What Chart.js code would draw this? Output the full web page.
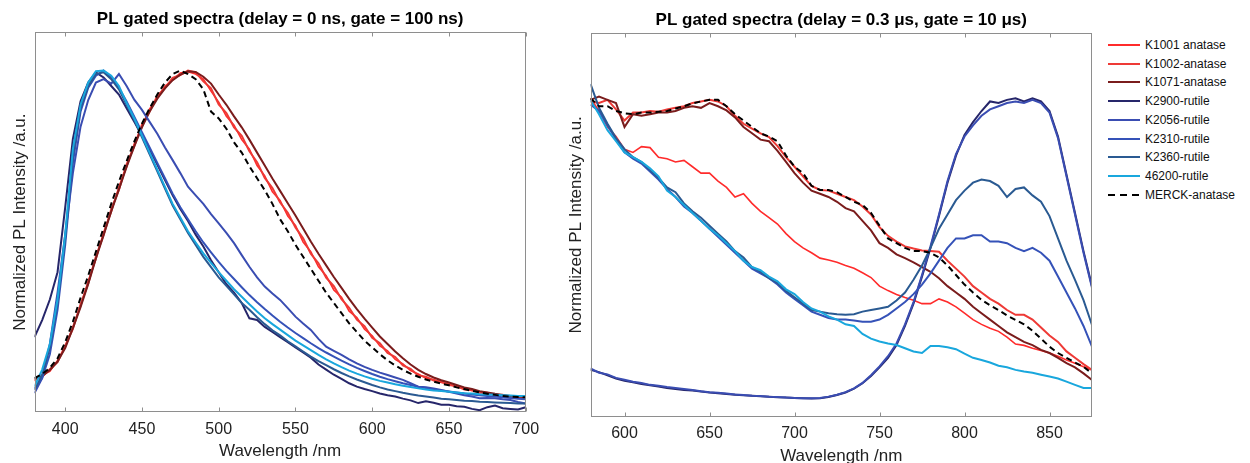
<!DOCTYPE html>
<html>
<head>
<meta charset="utf-8">
<title>PL gated spectra</title>
<script src="https://cdn.jsdelivr.net/npm/chart.js@4.4.1/dist/chart.umd.min.js"></script>
<style>
  html, body { margin: 0; padding: 0; background: #fff; overflow: hidden; }
  body { width: 1250px; height: 463px; position: relative; font-family: "Liberation Sans", Arial, sans-serif; }
  #wrap-left { position: absolute; left: 0; top: 0; width: 540px; height: 463px; }
  #wrap-right { position: absolute; left: 560px; top: 0; width: 540px; height: 467px; }
  #legend { position: absolute; left: 1108px; top: 0; width: 142px; height: 220px; }
  .lg-row { position: absolute; left: 0; width: 142px; height: 18px; font-size: 12px; line-height: 18px; color: #111; white-space: nowrap; }
  .lg-line { position: absolute; left: 0; top: 8px; width: 32px; height: 2px; }
  .lg-text { position: absolute; left: 37px; top: 0; }
</style>
</head>
<body>
<div id="wrap-left"><canvas id="chart-left" width="540" height="463"></canvas></div>
<div id="wrap-right"><canvas id="chart-right" width="540" height="467"></canvas></div>
<div id="legend"></div>

<script>
// ---- series info (legend order = plot order) ----
const seriesNames = ["K1001 anatase", "K1002-anatase", "K1071-anatase", "K2900-rutile",
  "K2056-rutile", "K2310-rutile", "K2360-rutile", "46200-rutile", "MERCK-anatase"];
const seriesColors = ["#ff2b2b", "#ee3a36", "#7a1c1c", "#26266a",
  "#3a4db2", "#3552b8", "#2a5a92", "#19a7dd", "#000000"];
const seriesWidths = [1.6, 2, 2, 2, 2, 2, 2, 2, 2];

const ticksLeft = [400, 450, 500, 550, 600, 650, 700];
const ticksRight = [600, 650, 700, 750, 800, 850];

// ---- left panel: delay 0 ns, gate 100 ns ----
const wlLeft = [380, 385, 390, 395, 400, 405, 410, 415, 420, 425,
  430, 435, 440, 445, 450, 455, 460, 465, 470, 475,
  480, 485, 490, 495, 500, 505, 510, 515, 520, 525,
  530, 535, 540, 545, 550, 555, 560, 565, 570, 575,
  580, 585, 590, 595, 600, 605, 610, 615, 620, 625,
  630, 635, 640, 645, 650, 655, 660, 665, 670, 675,
  680, 685, 690, 695, 700];

const left_K1001 = [0.092, 0.11, 0.12, 0.152, 0.19, 0.25, 0.31, 0.384, 0.448, 0.526,
  0.586, 0.66, 0.718, 0.786, 0.835, 0.888, 0.919, 0.955, 0.972, 0.993,
  0.997, 0.99, 0.975, 0.94, 0.908, 0.866, 0.84, 0.798, 0.77, 0.722,
  0.692, 0.645, 0.62, 0.574, 0.547, 0.498, 0.47, 0.426, 0.4, 0.358,
  0.337, 0.296, 0.277, 0.243, 0.224, 0.194, 0.18, 0.155, 0.142, 0.122,
  0.112, 0.1, 0.096, 0.087, 0.083, 0.074, 0.07, 0.063, 0.06, 0.054,
  0.053, 0.048, 0.048, 0.044, 0.045];
const left_K1002 = [0.095, 0.104, 0.126, 0.147, 0.195, 0.244, 0.316, 0.377, 0.456, 0.518,
  0.594, 0.651, 0.726, 0.779, 0.842, 0.88, 0.926, 0.949, 0.979, 0.987,
  1.0, 0.995, 0.969, 0.948, 0.901, 0.876, 0.834, 0.809, 0.764, 0.732,
  0.686, 0.656, 0.614, 0.584, 0.541, 0.509, 0.464, 0.436, 0.394, 0.369,
  0.331, 0.306, 0.271, 0.252, 0.218, 0.202, 0.174, 0.162, 0.137, 0.127,
  0.108, 0.104, 0.093, 0.09, 0.08, 0.077, 0.067, 0.066, 0.057, 0.057,
  0.05, 0.051, 0.045, 0.047, 0.043];
const left_K1071 = [0.098, 0.106, 0.124, 0.148, 0.188, 0.246, 0.308, 0.376, 0.45, 0.518,
  0.588, 0.652, 0.718, 0.778, 0.834, 0.88, 0.918, 0.948, 0.972, 0.988,
  0.998, 0.996, 0.982, 0.962, 0.93, 0.9, 0.866, 0.834, 0.798, 0.76,
  0.722, 0.684, 0.648, 0.612, 0.576, 0.538, 0.5, 0.464, 0.43, 0.396,
  0.364, 0.332, 0.302, 0.274, 0.248, 0.222, 0.2, 0.178, 0.158, 0.14,
  0.124, 0.112, 0.102, 0.094, 0.087, 0.08, 0.073, 0.068, 0.062, 0.058,
  0.054, 0.051, 0.048, 0.046, 0.045];
const left_K2900 = [0.22, 0.27, 0.33, 0.41, 0.6, 0.8, 0.91, 0.965, 0.995, 0.98,
  0.955, 0.93, 0.89, 0.85, 0.81, 0.77, 0.725, 0.68, 0.635, 0.595,
  0.56, 0.52, 0.485, 0.445, 0.41, 0.375, 0.35, 0.32, 0.275, 0.27,
  0.25, 0.235, 0.22, 0.205, 0.19, 0.175, 0.16, 0.14, 0.125, 0.11,
  0.098, 0.085, 0.075, 0.068, 0.062, 0.055, 0.05, 0.046, 0.04, 0.035,
  0.027, 0.032, 0.028, 0.022, 0.022, 0.018, 0.016, 0.01, 0.006, 0.015,
  0.02, 0.012, 0.01, 0.008, 0.015];
const left_K2056 = [0.056, 0.1, 0.2, 0.35, 0.52, 0.7, 0.836, 0.914, 0.965, 0.975,
  0.962, 0.99, 0.955, 0.915, 0.885, 0.85, 0.815, 0.775, 0.738, 0.7,
  0.66, 0.635, 0.61, 0.58, 0.553, 0.525, 0.495, 0.46, 0.426, 0.395,
  0.368, 0.348, 0.329, 0.305, 0.28, 0.26, 0.241, 0.215, 0.192, 0.18,
  0.168, 0.155, 0.143, 0.133, 0.124, 0.116, 0.109, 0.102, 0.095, 0.085,
  0.075, 0.073, 0.07, 0.065, 0.06, 0.055, 0.05, 0.046, 0.041, 0.042,
  0.041, 0.038, 0.036, 0.03, 0.026];
const left_K2310 = [0.07, 0.1, 0.17, 0.3, 0.49, 0.73, 0.88, 0.95, 0.985, 1.0,
  0.98, 0.95, 0.91, 0.865, 0.82, 0.775, 0.73, 0.685, 0.64, 0.6,
  0.565, 0.53, 0.497, 0.468, 0.44, 0.414, 0.39, 0.366, 0.343, 0.322,
  0.302, 0.283, 0.265, 0.248, 0.232, 0.217, 0.202, 0.188, 0.175, 0.163,
  0.151, 0.14, 0.13, 0.121, 0.112, 0.104, 0.097, 0.091, 0.085, 0.08,
  0.075, 0.071, 0.067, 0.064, 0.061, 0.058, 0.055, 0.052, 0.05, 0.048,
  0.046, 0.044, 0.042, 0.04, 0.038];
const left_K2360 = [0.065, 0.11, 0.19, 0.32, 0.51, 0.75, 0.89, 0.955, 0.99, 0.995,
  0.975, 0.945, 0.9, 0.855, 0.805, 0.755, 0.705, 0.655, 0.605, 0.565,
  0.525, 0.49, 0.455, 0.425, 0.395, 0.37, 0.345, 0.32, 0.3, 0.278,
  0.258, 0.24, 0.225, 0.208, 0.193, 0.178, 0.163, 0.15, 0.138, 0.126,
  0.115, 0.105, 0.096, 0.088, 0.08, 0.073, 0.067, 0.062, 0.057, 0.053,
  0.049, 0.046, 0.043, 0.04, 0.038, 0.036, 0.034, 0.033, 0.031, 0.03,
  0.029, 0.028, 0.027, 0.026, 0.026];
const left_46200 = [0.075, 0.125, 0.2, 0.33, 0.52, 0.77, 0.9, 0.965, 0.998, 1.0,
  0.985, 0.955, 0.905, 0.86, 0.81, 0.76, 0.71, 0.66, 0.61, 0.57,
  0.53, 0.497, 0.465, 0.437, 0.41, 0.385, 0.36, 0.338, 0.316, 0.295,
  0.275, 0.258, 0.242, 0.226, 0.21, 0.196, 0.182, 0.168, 0.155, 0.143,
  0.132, 0.122, 0.113, 0.105, 0.098, 0.092, 0.087, 0.082, 0.078, 0.074,
  0.07, 0.067, 0.064, 0.062, 0.06, 0.058, 0.056, 0.055, 0.053, 0.052,
  0.051, 0.05, 0.049, 0.048, 0.048];
const left_MERCK = [0.1, 0.112, 0.13, 0.158, 0.205, 0.265, 0.335, 0.4, 0.47, 0.54,
  0.61, 0.675, 0.735, 0.792, 0.845, 0.89, 0.93, 0.965, 0.99, 1.0,
  0.99, 0.975, 0.945, 0.88, 0.86, 0.83, 0.79, 0.76, 0.72, 0.685,
  0.65, 0.61, 0.565, 0.53, 0.49, 0.455, 0.42, 0.385, 0.35, 0.32,
  0.29, 0.26, 0.235, 0.21, 0.19, 0.17, 0.152, 0.137, 0.124, 0.113,
  0.104, 0.096, 0.09, 0.084, 0.079, 0.073, 0.068, 0.063, 0.058, 0.054,
  0.051, 0.048, 0.046, 0.045, 0.044];

// ---- right panel: delay 0.3 us, gate 10 us ----
const wlRight = [580, 585, 590, 595, 600, 605, 610, 615, 620, 625,
  630, 635, 640, 645, 650, 655, 660, 665, 670, 675,
  680, 685, 690, 695, 700, 705, 710, 715, 720, 725,
  730, 735, 740, 745, 750, 755, 760, 765, 770, 775,
  780, 785, 790, 795, 800, 805, 810, 815, 820, 825,
  830, 835, 840, 845, 850, 855, 860, 865, 870, 875];

const right_K1001 = [1.0, 0.96, 0.91, 0.88, 0.84, 0.83, 0.848, 0.845, 0.815, 0.81,
  0.8, 0.805, 0.785, 0.765, 0.765, 0.74, 0.72, 0.69, 0.7, 0.67,
  0.645, 0.625, 0.605, 0.575, 0.55, 0.53, 0.515, 0.498, 0.492, 0.485,
  0.475, 0.466, 0.452, 0.437, 0.41, 0.396, 0.384, 0.374, 0.366, 0.355,
  0.355, 0.37, 0.36, 0.345, 0.325, 0.305, 0.29, 0.278, 0.268, 0.25,
  0.228, 0.224, 0.215, 0.208, 0.2, 0.19, 0.178, 0.168, 0.157, 0.147];
const right_K1002 = [0.99, 0.985, 0.995, 0.965, 0.93, 0.955, 0.955, 0.96, 0.958, 0.965,
  0.97, 0.975, 0.985, 0.99, 0.995, 0.99, 0.975, 0.945, 0.92, 0.905,
  0.89, 0.878, 0.85, 0.815, 0.785, 0.755, 0.725, 0.712, 0.71, 0.7,
  0.69, 0.68, 0.66, 0.635, 0.595, 0.568, 0.55, 0.535, 0.528, 0.522,
  0.52, 0.518, 0.49, 0.465, 0.44, 0.41, 0.39, 0.37, 0.355, 0.335,
  0.32, 0.32, 0.305, 0.28, 0.255, 0.235, 0.205, 0.185, 0.165, 0.147];
const right_K1071 = [0.995, 1.005, 0.995, 0.985, 0.91, 0.95, 0.945, 0.95, 0.955, 0.955,
  0.96, 0.97, 0.975, 0.97, 0.985, 0.975, 0.962, 0.94, 0.91, 0.89,
  0.87, 0.865, 0.835, 0.8, 0.765, 0.735, 0.71, 0.7, 0.69, 0.675,
  0.655, 0.645, 0.615, 0.585, 0.545, 0.53, 0.51, 0.498, 0.485, 0.47,
  0.455, 0.435, 0.41, 0.39, 0.37, 0.345, 0.325, 0.305, 0.285, 0.265,
  0.25, 0.235, 0.225, 0.21, 0.2, 0.185, 0.168, 0.155, 0.136, 0.115];
const right_K2900 = [0.147, 0.14, 0.13, 0.12, 0.113, 0.108, 0.103, 0.099, 0.095, 0.09,
  0.087, 0.084, 0.082, 0.079, 0.076, 0.074, 0.071, 0.069, 0.067, 0.066,
  0.064, 0.063, 0.061, 0.06, 0.059, 0.058, 0.057, 0.058, 0.062, 0.068,
  0.076, 0.088, 0.105, 0.128, 0.155, 0.185, 0.225, 0.285, 0.355, 0.44,
  0.53, 0.63, 0.735, 0.82, 0.885, 0.925, 0.96, 0.99, 0.985, 0.995,
  1.0, 0.99, 1.0, 0.99, 0.96, 0.88, 0.76, 0.64, 0.52, 0.41];
const right_K2056 = [0.152, 0.138, 0.133, 0.122, 0.116, 0.11, 0.106, 0.1, 0.097, 0.093,
  0.09, 0.087, 0.084, 0.08, 0.077, 0.075, 0.073, 0.07, 0.068, 0.066,
  0.065, 0.063, 0.062, 0.06, 0.059, 0.058, 0.058, 0.059, 0.063, 0.069,
  0.077, 0.089, 0.106, 0.13, 0.158, 0.19, 0.23, 0.29, 0.36, 0.445,
  0.535, 0.635, 0.74, 0.825, 0.88, 0.915, 0.945, 0.965, 0.975, 0.985,
  0.99, 0.985, 0.995, 0.985, 0.955, 0.875, 0.755, 0.635, 0.515, 0.405];
const right_K2310 = [0.98, 0.96, 0.915, 0.87, 0.83, 0.81, 0.795, 0.77, 0.745, 0.715,
  0.69, 0.66, 0.64, 0.615, 0.59, 0.565, 0.54, 0.515, 0.49, 0.465,
  0.45, 0.435, 0.415, 0.39, 0.37, 0.35, 0.33, 0.32, 0.31, 0.305,
  0.305, 0.302, 0.298, 0.298, 0.305, 0.32, 0.34, 0.36, 0.385, 0.415,
  0.45, 0.49, 0.53, 0.56, 0.56, 0.57, 0.57, 0.55, 0.55, 0.545,
  0.53, 0.52, 0.53, 0.515, 0.49, 0.44, 0.39, 0.34, 0.285, 0.22];
const right_K2360 = [1.045, 0.97, 0.92, 0.875, 0.84, 0.815, 0.8, 0.775, 0.75, 0.72,
  0.705, 0.67, 0.645, 0.625, 0.6, 0.575, 0.55, 0.52, 0.5, 0.47,
  0.455, 0.435, 0.42, 0.395, 0.375, 0.355, 0.335, 0.33, 0.325, 0.322,
  0.32, 0.322, 0.33, 0.335, 0.34, 0.345, 0.365, 0.39, 0.43, 0.475,
  0.53, 0.59, 0.635, 0.68, 0.71, 0.735, 0.745, 0.74, 0.725, 0.69,
  0.715, 0.72, 0.695, 0.675, 0.63, 0.56, 0.49, 0.43, 0.366, 0.288];
const right_46200 = [0.994, 0.95, 0.9, 0.865, 0.83, 0.815, 0.8, 0.78, 0.755, 0.71,
  0.69, 0.665, 0.64, 0.615, 0.59, 0.57, 0.545, 0.52, 0.49, 0.47,
  0.46, 0.44, 0.425, 0.4, 0.385, 0.36, 0.34, 0.33, 0.315, 0.305,
  0.29, 0.285, 0.26, 0.245, 0.236, 0.23, 0.225, 0.215, 0.205, 0.2,
  0.222, 0.222, 0.218, 0.212, 0.198, 0.185, 0.178, 0.17, 0.16, 0.155,
  0.147, 0.142, 0.138, 0.132, 0.126, 0.12, 0.11, 0.1, 0.09, 0.09];
const right_MERCK = [1.0, 0.975, 0.975, 0.96, 0.953, 0.95, 0.955, 0.955, 0.958, 0.96,
  0.968, 0.975, 0.984, 0.99, 0.995, 0.995, 0.975, 0.95, 0.93, 0.91,
  0.89, 0.88, 0.865, 0.82, 0.785, 0.765, 0.725, 0.712, 0.712, 0.705,
  0.69, 0.675, 0.665, 0.64, 0.6, 0.56, 0.545, 0.53, 0.52, 0.52,
  0.515, 0.5, 0.475, 0.445, 0.415, 0.39, 0.367, 0.35, 0.335, 0.318,
  0.304, 0.29, 0.27, 0.245, 0.22, 0.2, 0.185, 0.17, 0.157, 0.136];

const leftSeries = [left_K1001, left_K1002, left_K1071, left_K2900, left_K2056,
  left_K2310, left_K2360, left_46200, left_MERCK];
const rightSeries = [right_K1001, right_K1002, right_K1071, right_K2900, right_K2056,
  right_K2310, right_K2360, right_46200, right_MERCK];

const FONT = '"Liberation Sans", Arial, Helvetica, sans-serif';

// box round the plot area + inward x ticks (matlab look)
const boxPlugin = {
  id: "box",
  afterDatasetsDraw(chart) {
    const { ctx, chartArea: a, scales: { x } } = chart;
    const l = Math.round(a.left) + 0.5, r = Math.round(a.right) - 0.5;
    const t = Math.round(a.top) + 0.5, b = Math.round(a.bottom) - 0.5;
    ctx.save();
    ctx.strokeStyle = "#8e8e8e";
    ctx.lineWidth = 1;
    ctx.strokeRect(l, t, r - l, b - t);
    ctx.beginPath();
    x.ticks.forEach((tk) => {
      const px = Math.round(x.getPixelForValue(tk.value)) + 0.5;
      ctx.moveTo(px, b); ctx.lineTo(px, b - 4);
      ctx.moveTo(px, t); ctx.lineTo(px, t + 4);
    });
    ctx.stroke();
    ctx.restore();
  },
};

function makeDatasets(wl, series) {
  return series.map((vals, i) => ({
    label: seriesNames[i],
    data: wl.map((w, j) => ({ x: w, y: vals[j] })),
    borderColor: seriesColors[i],
    borderWidth: seriesWidths[i],
    borderDash: i === 8 ? [6, 4] : [],
    pointRadius: 0,
    tension: 0,
    fill: false,
    order: seriesNames.length - i, // later series drawn on top
  }));
}

function makeChart(canvasId, cfg) {
  const ctx = document.getElementById(canvasId).getContext("2d");
  return new Chart(ctx, {
    type: "line",
    data: { datasets: makeDatasets(cfg.wl, cfg.series) },
    plugins: [boxPlugin],
    options: {
      responsive: false,
      animation: false,
      layout: { padding: cfg.padding },
      plugins: {
        legend: { display: false },
        tooltip: { enabled: false },
        title: {
          display: true,
          fullSize: false, // centre over the plot box
          text: cfg.title,
          color: "#000",
          font: { family: FONT, size: 17, weight: "bold" },
          padding: cfg.titlePad,
        },
      },
      scales: {
        x: {
          type: "linear",
          min: cfg.xmin,
          max: cfg.xmax,
          afterBuildTicks: (s) => { s.ticks = cfg.ticks.map((v) => ({ value: v })); },
          afterFit: (s) => { s.height = cfg.xAxisH; s.paddingLeft = 0; s.paddingRight = 0; },
          grid: { display: false, drawTicks: false },
          border: { display: false },
          ticks: { color: "#222", font: { family: FONT, size: 16 }, padding: 7.5, maxRotation: 0 },
          title: {
            display: true,
            text: "Wavelength /nm",
            color: "#222",
            font: { family: FONT, size: 17 },
            padding: cfg.xTitlePad,
          },
        },
        y: {
          min: 0,
          max: cfg.ymax,
          afterFit: (s) => { s.width = 28.4; s.paddingTop = 0; s.paddingBottom = 0; },
          grid: { display: false, drawTicks: false },
          border: { display: false },
          ticks: { display: false },
          title: {
            display: true,
            text: "Normalized PL Intensity /a.u.",
            color: "#222",
            font: { family: FONT, size: 17 },
            padding: { top: 4, bottom: 4 },
          },
        },
      },
    },
  });
}

function buildLegend() {
  const box = document.getElementById("legend");
  seriesNames.forEach((name, i) => {
    const row = document.createElement("div");
    row.className = "lg-row";
    row.style.top = (36 + i * 18.7).toFixed(1) + "px";
    const line = document.createElement("div");
    line.className = "lg-line";
    if (i === 8) {
      line.style.background = "repeating-linear-gradient(90deg, #000 0 7px, transparent 7px 12px)";
    } else {
      line.style.background = seriesColors[i];
      line.style.height = seriesWidths[i] + "px";
    }
    const txt = document.createElement("span");
    txt.className = "lg-text";
    txt.textContent = name;
    row.appendChild(line);
    row.appendChild(txt);
    box.appendChild(row);
  });
}

makeChart("chart-left", {
  wl: wlLeft, series: leftSeries, ticks: ticksLeft,
  xmin: 380, xmax: 700, ymax: 1.113,
  title: "PL gated spectra (delay = 0 ns, gate = 100 ns)",
  padding: { left: 6.1, right: 14.3, top: 0, bottom: 0 },
  titlePad: { top: 9.4, bottom: 2.2 },
  xAxisH: 50.7,
  xTitlePad: { top: 0, bottom: 1.1 },
});

makeChart("chart-right", {
  wl: wlRight, series: rightSeries, ticks: ticksRight,
  xmin: 580, xmax: 875, ymax: 1.205,
  title: "PL gated spectra (delay = 0.3 \u03bcs, gate = 10 \u03bcs)",
  padding: { left: 2.1, right: 8, top: 0, bottom: 0 },
  titlePad: { top: 9.9, bottom: 2.7 },
  xAxisH: 50.3,
  xTitlePad: { top: 0, bottom: 0.8 },
});

buildLegend();
</script>
</body>
</html>
